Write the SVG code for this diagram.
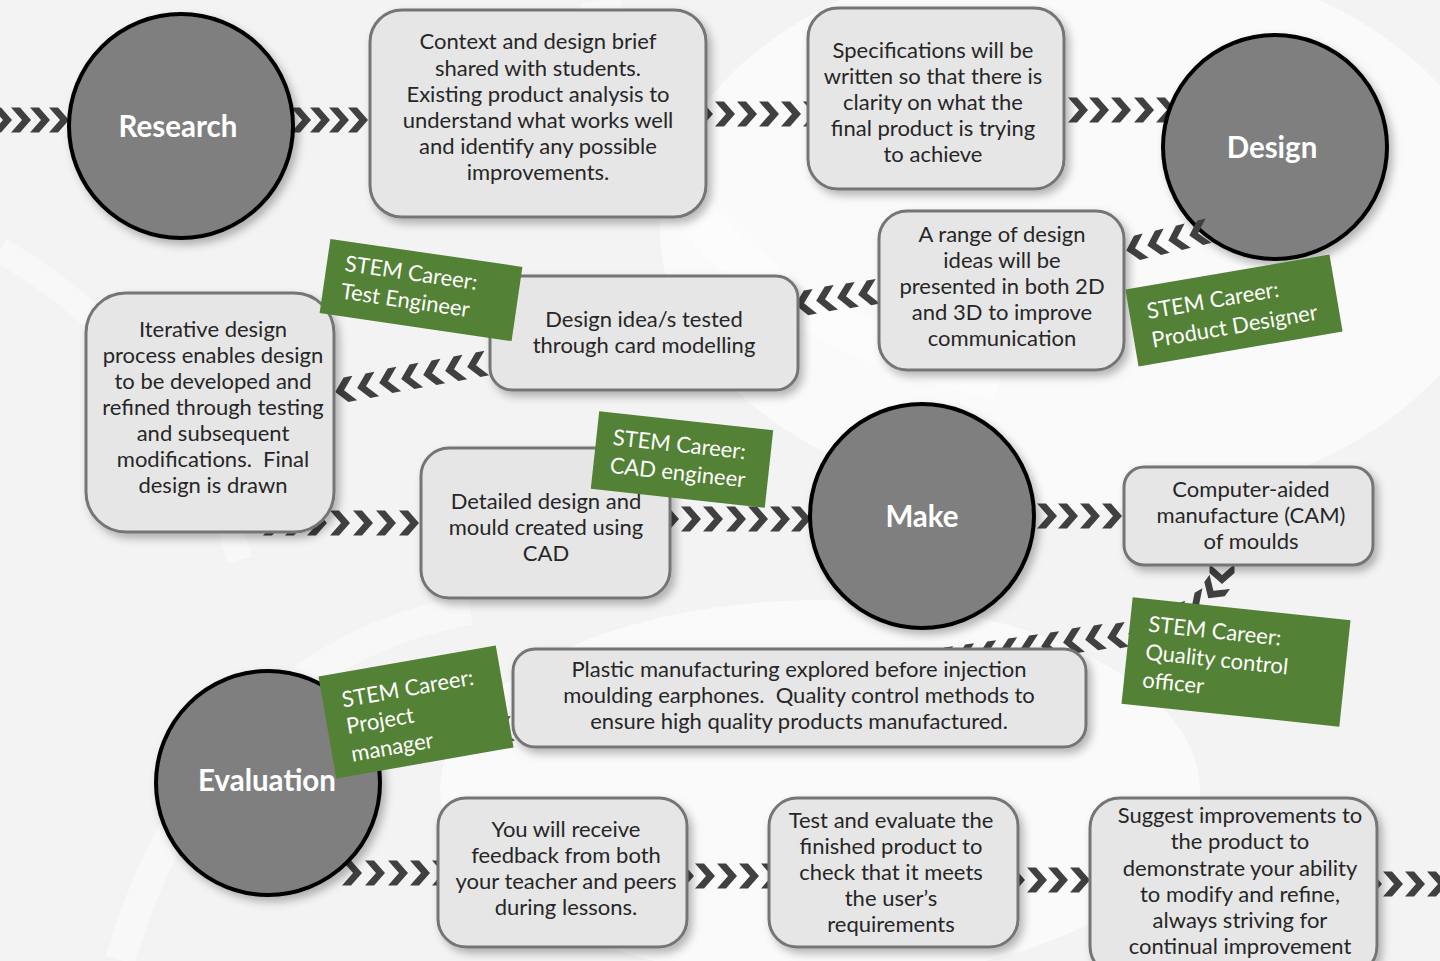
<svg xmlns="http://www.w3.org/2000/svg" width="1440" height="961" viewBox="0 0 1440 961">
<style>
.bg{fill:#f3f3f3}
.wm{fill:#ffffff;opacity:0.55}
.wms{fill:none;stroke:#ffffff;opacity:0.45}
.ch{fill:#404040}
.circ{fill:#7f7f7f;stroke:#000;stroke-width:4}
.ctxt{font-family:Lato,"Liberation Sans",sans-serif;font-weight:bold;font-size:29.5px;fill:#fff;text-anchor:middle}
.box{fill:#e6e6e6;stroke:#757575;stroke-width:3}
.btxt{font-family:Lato,"Liberation Sans",sans-serif;font-size:22px;fill:#262626;text-anchor:middle;white-space:pre}
.lab{fill:#538135}
.ltxt{font-family:Lato,"Liberation Sans",sans-serif;font-size:22px;fill:#fff}
</style>
<defs>
<filter id="sh" x="-20%" y="-20%" width="140%" height="150%">
<feDropShadow dx="4" dy="5" stdDeviation="4" flood-color="#000" flood-opacity="0.28"/>
</filter>
<path id="chev" class="ch" d="M-10,-12.5 L-1,-12.5 L10,0 L-1,12.5 L-10,12.5 L1,0 Z"/>
</defs>
<rect class="bg" x="0" y="0" width="1440" height="961"/>
<g id="watermark">
<ellipse class="wm" cx="1080" cy="230" rx="420" ry="280"/>
<ellipse class="wm" cx="820" cy="790" rx="380" ry="190"/>
<path class="wms" stroke-width="40" d="M600,0 C640,200 760,330 1000,380"/>
<path class="wms" stroke-width="30" d="M120,960 C180,760 300,640 470,610"/>
<path class="wms" stroke-width="25" d="M0,250 C120,320 200,420 240,560"/>
</g>
<g id="connectors">
<g id="a-left-research">
<use href="#chev" transform="translate(2,120)"/>
<use href="#chev" transform="translate(21,120)"/>
<use href="#chev" transform="translate(40,120)"/>
<use href="#chev" transform="translate(59,120)"/>
</g>
<g id="a-research-context">
<use href="#chev" transform="translate(301,120)"/>
<use href="#chev" transform="translate(320,120)"/>
<use href="#chev" transform="translate(339,120)"/>
<use href="#chev" transform="translate(358,120)"/>
</g>
<g id="a-context-spec">
<use href="#chev" transform="translate(703,114)"/>
<use href="#chev" transform="translate(725,114)"/>
<use href="#chev" transform="translate(747,114)"/>
<use href="#chev" transform="translate(769,114)"/>
<use href="#chev" transform="translate(791,114)"/>
<use href="#chev" transform="translate(813,114)"/>
</g>
<g id="a-spec-design">
<use href="#chev" transform="translate(1078,110)"/>
<use href="#chev" transform="translate(1099,110)"/>
<use href="#chev" transform="translate(1121,110)"/>
<use href="#chev" transform="translate(1144,110)"/>
<use href="#chev" transform="translate(1166,110)"/>
</g>
<g id="a-range-idea">
<use href="#chev" transform="translate(805,303) rotate(170)"/>
<use href="#chev" transform="translate(826,299) rotate(170)"/>
<use href="#chev" transform="translate(847,296) rotate(170)"/>
<use href="#chev" transform="translate(868,293) rotate(170)"/>
</g>
<g id="a-idea-iterative">
<use href="#chev" transform="translate(345,390) rotate(169)"/>
<use href="#chev" transform="translate(367,386) rotate(169)"/>
<use href="#chev" transform="translate(389,381) rotate(169)"/>
<use href="#chev" transform="translate(411,377) rotate(169)"/>
<use href="#chev" transform="translate(433,373) rotate(169)"/>
<use href="#chev" transform="translate(455,369) rotate(169)"/>
<use href="#chev" transform="translate(477,365) rotate(169)"/>
</g>
<g id="a-iterative-detailed">
<use href="#chev" transform="translate(273,523)"/>
<use href="#chev" transform="translate(295,523)"/>
<use href="#chev" transform="translate(317,523)"/>
<use href="#chev" transform="translate(340,523)"/>
<use href="#chev" transform="translate(363,523)"/>
<use href="#chev" transform="translate(386,523)"/>
<use href="#chev" transform="translate(409,523)"/>
<use href="#chev" transform="translate(432,523)"/>
</g>
<g id="a-detailed-make">
<use href="#chev" transform="translate(669,519)"/>
<use href="#chev" transform="translate(691,519)"/>
<use href="#chev" transform="translate(713,519)"/>
<use href="#chev" transform="translate(736,519)"/>
<use href="#chev" transform="translate(758,519)"/>
<use href="#chev" transform="translate(780,519)"/>
<use href="#chev" transform="translate(801,519)"/>
</g>
<g id="a-make-cam">
<use href="#chev" transform="translate(1047,516)"/>
<use href="#chev" transform="translate(1068,516)"/>
<use href="#chev" transform="translate(1090,516)"/>
<use href="#chev" transform="translate(1112,516)"/>
</g>
<g id="a-cam-plastic">
<use href="#chev" transform="translate(1222,574) rotate(90)"/>
<use href="#chev" transform="translate(1214,590) rotate(125)"/>
<use href="#chev" transform="translate(1200,604) rotate(150)"/>
<use href="#chev" transform="translate(1180,616) rotate(160)"/>
<use href="#chev" transform="translate(1159,626) rotate(165)"/>
<use href="#chev" transform="translate(1138,632) rotate(168)"/>
<use href="#chev" transform="translate(1117,636) rotate(170)"/>
<use href="#chev" transform="translate(1095,638) rotate(170)"/>
<use href="#chev" transform="translate(1073,641) rotate(171)"/>
<use href="#chev" transform="translate(1051,645) rotate(172)"/>
<use href="#chev" transform="translate(1030,648) rotate(172)"/>
<use href="#chev" transform="translate(1009,651) rotate(172)"/>
<use href="#chev" transform="translate(988,654) rotate(172)"/>
<use href="#chev" transform="translate(966,657) rotate(172)"/>
<use href="#chev" transform="translate(945,660) rotate(172)"/>
</g>
<g id="a-plastic-evaluation">
<use href="#chev" transform="translate(503,730) rotate(170)"/>
<use href="#chev" transform="translate(481,734) rotate(170)"/>
</g>
<g id="a-evaluation-feedback">
<use href="#chev" transform="translate(352,873)"/>
<use href="#chev" transform="translate(375,873)"/>
<use href="#chev" transform="translate(398,873)"/>
<use href="#chev" transform="translate(420,873)"/>
<use href="#chev" transform="translate(442,873)"/>
</g>
<g id="a-feedback-test">
<use href="#chev" transform="translate(684,876)"/>
<use href="#chev" transform="translate(705,876)"/>
<use href="#chev" transform="translate(727,876)"/>
<use href="#chev" transform="translate(749,876)"/>
<use href="#chev" transform="translate(771,876)"/>
</g>
<g id="a-test-suggest">
<use href="#chev" transform="translate(1015,880)"/>
<use href="#chev" transform="translate(1037,880)"/>
<use href="#chev" transform="translate(1058,880)"/>
<use href="#chev" transform="translate(1080,880)"/>
</g>
<g id="a-suggest-right">
<use href="#chev" transform="translate(1372,884)"/>
<use href="#chev" transform="translate(1393,884)"/>
<use href="#chev" transform="translate(1415,884)"/>
<use href="#chev" transform="translate(1437,884)"/>
</g>
</g>
<g id="research">
<circle class="circ" cx="181" cy="126" r="112" filter="url(#sh)"/>
<text class="ctxt" x="178" y="137">Research</text>
</g>
<g id="design">
<circle class="circ" cx="1275" cy="147" r="112" filter="url(#sh)"/>
<text class="ctxt" x="1272" y="158">Design</text>
</g>
<g id="make">
<circle class="circ" cx="922" cy="516" r="112" filter="url(#sh)"/>
<text class="ctxt" x="922" y="527">Make</text>
</g>
<g id="evaluation">
<circle class="circ" cx="268" cy="783" r="112" filter="url(#sh)"/>
<text class="ctxt" x="267" y="791">Evaluation</text>
</g>
<g id="a-design-range">
<use href="#chev" transform="translate(1136,248) rotate(166)"/>
<use href="#chev" transform="translate(1157,243) rotate(166)"/>
<use href="#chev" transform="translate(1178,238) rotate(166)"/>
<use href="#chev" transform="translate(1199,233) rotate(166)"/>
</g>
<g id="context">
<rect class="box" x="370" y="10" width="336" height="207" rx="32" filter="url(#sh)"/>
<text class="btxt"><tspan x="538" y="49">Context and design brief</tspan><tspan x="538" y="76">shared with students.</tspan><tspan x="538" y="102">Existing product analysis to</tspan><tspan x="538" y="128">understand what works well</tspan><tspan x="538" y="154">and identify any possible</tspan><tspan x="538" y="180">improvements.</tspan></text>
</g>
<g id="spec">
<rect class="box" x="808" y="8" width="256" height="181" rx="30" filter="url(#sh)"/>
<text class="btxt"><tspan x="933" y="58">Specifications will be</tspan><tspan x="933" y="84">written so that there is</tspan><tspan x="933" y="110">clarity on what the</tspan><tspan x="933" y="136">final product is trying</tspan><tspan x="933" y="162">to achieve</tspan></text>
</g>
<g id="range">
<rect class="box" x="879" y="211" width="245" height="159" rx="28" filter="url(#sh)"/>
<text class="btxt"><tspan x="1002" y="242">A range of design</tspan><tspan x="1002" y="268">ideas will be</tspan><tspan x="1002" y="294">presented in both 2D</tspan><tspan x="1002" y="320">and 3D to improve</tspan><tspan x="1002" y="346">communication</tspan></text>
</g>
<g id="idea">
<rect class="box" x="490" y="276" width="308" height="114" rx="22" filter="url(#sh)"/>
<text class="btxt"><tspan x="644" y="327">Design idea/s tested</tspan><tspan x="644" y="353">through card modelling</tspan></text>
</g>
<g id="iterative">
<rect class="box" x="86" y="293" width="248" height="239" rx="40" filter="url(#sh)"/>
<text class="btxt"><tspan x="213" y="337">Iterative design</tspan><tspan x="213" y="363">process enables design</tspan><tspan x="213" y="389">to be developed and</tspan><tspan x="213" y="415">refined through testing</tspan><tspan x="213" y="441">and subsequent</tspan><tspan x="213" y="467">modifications.  Final</tspan><tspan x="213" y="493">design is drawn</tspan></text>
</g>
<g id="detailed">
<rect class="box" x="421" y="448" width="249" height="150" rx="28" filter="url(#sh)"/>
<text class="btxt"><tspan x="546" y="509">Detailed design and</tspan><tspan x="546" y="535">mould created using</tspan><tspan x="546" y="561">CAD</tspan></text>
</g>
<g id="cam">
<rect class="box" x="1124" y="467" width="249" height="98" rx="20" filter="url(#sh)"/>
<text class="btxt"><tspan x="1251" y="497">Computer-aided</tspan><tspan x="1251" y="523">manufacture (CAM)</tspan><tspan x="1251" y="549">of moulds</tspan></text>
</g>
<g id="plastic">
<rect class="box" x="513" y="649" width="573" height="98" rx="22" filter="url(#sh)"/>
<text class="btxt"><tspan x="799" y="677">Plastic manufacturing explored before injection</tspan><tspan x="799" y="703">moulding earphones.  Quality control methods to</tspan><tspan x="799" y="729">ensure high quality products manufactured.</tspan></text>
</g>
<g id="feedback">
<rect class="box" x="438" y="798" width="249" height="149" rx="28" filter="url(#sh)"/>
<text class="btxt"><tspan x="566" y="837">You will receive</tspan><tspan x="566" y="863">feedback from both</tspan><tspan x="566" y="889">your teacher and peers</tspan><tspan x="566" y="915">during lessons.</tspan></text>
</g>
<g id="test">
<rect class="box" x="769" y="798" width="249" height="149" rx="28" filter="url(#sh)"/>
<text class="btxt"><tspan x="891" y="828">Test and evaluate the</tspan><tspan x="891" y="854">finished product to</tspan><tspan x="891" y="880">check that it meets</tspan><tspan x="891" y="906">the user’s</tspan><tspan x="891" y="932">requirements</tspan></text>
</g>
<g id="suggest">
<rect class="box" x="1090" y="798" width="287" height="178" rx="30" filter="url(#sh)"/>
<text class="btxt"><tspan x="1240" y="823">Suggest improvements to</tspan><tspan x="1240" y="849">the product to</tspan><tspan x="1240" y="876">demonstrate your ability</tspan><tspan x="1240" y="902">to modify and refine,</tspan><tspan x="1240" y="928">always striving for</tspan><tspan x="1240" y="954">continual improvement</tspan></text>
</g>
<g id="career-test-engineer" transform="translate(421,290) rotate(8.3)">
<rect class="lab" x="-97" y="-37.5" width="194" height="75"/>
<text class="ltxt"><tspan x="-79" y="-8">STEM Career:</tspan><tspan x="-79" y="20">Test Engineer</tspan></text>
</g>
<g id="career-product-designer" transform="translate(1234,310.5) rotate(-9.7)">
<rect class="lab" x="-103.5" y="-39" width="207" height="78"/>
<text class="ltxt"><tspan x="-86" y="-6">STEM Career:</tspan><tspan x="-86" y="23">Product Designer</tspan></text>
</g>
<g id="career-cad-engineer" transform="translate(682,459.5) rotate(6.2)">
<rect class="lab" x="-87.5" y="-39" width="175" height="78"/>
<text class="ltxt"><tspan x="-71" y="-7">STEM Career:</tspan><tspan x="-71" y="21">CAD engineer</tspan></text>
</g>
<g id="career-quality" transform="translate(1236,662) rotate(6)">
<rect class="lab" x="-109.5" y="-53.5" width="219" height="107"/>
<text class="ltxt"><tspan x="-91" y="-21">STEM Career:</tspan><tspan x="-91" y="7">Quality control</tspan><tspan x="-91" y="35">officer</tspan></text>
</g>
<g id="career-project-manager" transform="translate(416,712) rotate(-9.9)">
<rect class="lab" x="-90" y="-51.7" width="180" height="103.4"/>
<text class="ltxt"><tspan x="-71" y="-17">STEM Career:</tspan><tspan x="-71" y="10">Project</tspan><tspan x="-71" y="38">manager</tspan></text>
</g>
</svg>
